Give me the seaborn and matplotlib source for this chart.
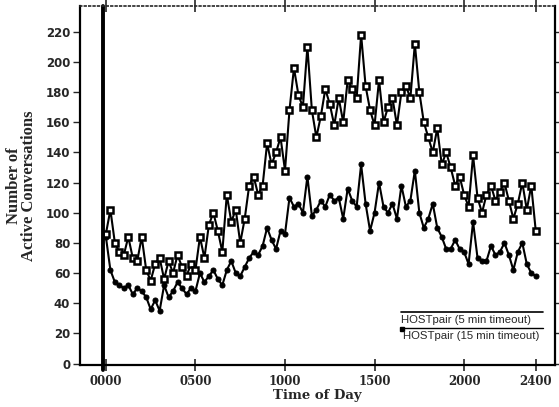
import numpy as np
import pandas as pd
import matplotlib
matplotlib.use("Agg")
import matplotlib.pyplot as plt
import seaborn as sns

# Time of day in hours (15-minute samples)
hours = np.arange(0, 24.01, 0.25)

# HOSTpair (15 min timeout) - upper series, square markers
conv_15min = [86, 102, 80, 74, 72, 84, 70, 68, 84, 62, 55, 66, 70, 56, 68, 60,
              72, 64, 58, 66, 62, 84, 70, 92, 100, 88, 74, 112, 94, 102, 80, 96,
              118, 124, 112, 118, 146, 132, 140, 150, 128, 168, 196, 178, 170, 210, 168, 150,
              164, 182, 172, 158, 176, 160, 188, 182, 176, 218, 184, 168, 158, 188, 160, 170,
              176, 158, 180, 184, 176, 212, 180, 160, 150, 140, 156, 132, 140, 130, 118, 124,
              112, 104, 138, 110, 100, 112, 118, 108, 114, 120, 108, 96, 106, 120, 102, 118, 88]

# HOSTpair (5 min timeout) - lower series, dot markers
conv_5min = [84, 62, 54, 52, 50, 52, 46, 50, 48, 44, 36, 42, 35, 52, 44, 48,
             54, 50, 46, 50, 48, 60, 54, 58, 62, 56, 52, 62, 68, 60, 58, 64,
             70, 74, 72, 78, 90, 82, 76, 88, 86, 110, 104, 106, 100, 124, 98, 102,
             108, 104, 112, 108, 110, 96, 116, 108, 104, 132, 106, 88, 100, 120, 104, 100,
             106, 96, 118, 104, 108, 128, 100, 90, 96, 106, 90, 84, 76, 76, 82, 76,
             74, 66, 94, 70, 68, 68, 78, 72, 74, 80, 72, 62, 74, 80, 66, 60, 58]

xtick_vals = [0, 5, 10, 15, 20, 24]
xtick_labels = ["0000", "0500", "1000", "1500", "2000", "2400"]
ytick_vals = list(range(0, 221, 20))
legend_labels = ["HOSTpair (5 min timeout)", "HOSTpair (15 min timeout)"]

sns.set_style("ticks")
fig = plt.figure(figsize=(5.59, 4.07), dpi=100)
ax = fig.add_axes([0.143, 0.103, 0.850, 0.882])

df = pd.DataFrame({"hour": hours, "c15": conv_15min, "c5": conv_5min})

sns.lineplot(data=df, x="hour", y="c5", ax=ax, color="black", linewidth=1.5,
             marker="o", markersize=3.6, markerfacecolor="black",
             markeredgecolor="black")
sns.lineplot(data=df, x="hour", y="c15", ax=ax, color="black", linewidth=1.5,
             marker="s", markersize=4.8, markerfacecolor="white",
             markeredgecolor="black", markeredgewidth=1.8)

# thick vertical line near midnight
ax.axvline(-0.17, color="black", linewidth=2.8, ymin=-0.015, ymax=1.0, clip_on=False)

ax.set_xlim(-1.45, 25.08)
ax.set_ylim(-1, 237)

ax.set_xticks(xtick_vals)
ax.set_xticklabels(xtick_labels, fontfamily="DejaVu Serif", fontweight="bold", fontsize=8.5)
ax.set_yticks(ytick_vals)
ax.set_yticklabels([str(v) for v in ytick_vals], fontfamily="DejaVu Sans",
                   fontweight="bold", fontsize=8.5)

ax.tick_params(axis="y", which="both", left=True, right=True, direction="out",
               length=5, width=1, pad=2)
ax.tick_params(axis="y", which="both", right=True, labelright=False)
ax.tick_params(axis="x", which="both", bottom=True, top=True, direction="inout",
               length=8, width=1.2, pad=3)

for side in ["left", "bottom", "right"]:
    ax.spines[side].set_linewidth(1.6)
    ax.spines[side].set_color("black")
ax.spines["top"].set_linewidth(1.2)
ax.spines["top"].set_linestyle(":")

ax.set_xlabel("Time of Day", fontfamily="DejaVu Serif", fontweight="bold",
              fontsize=9.5, labelpad=1)
ax.set_ylabel("Number of\nActive Conversations", fontfamily="Liberation Serif",
              fontweight="bold", fontsize=12, linespacing=0.95, labelpad=6)

# legend drawn as text with rule lines
ax.plot([0.675, 0.975], [0.147, 0.147], transform=ax.transAxes, color="black", lw=1.2)
ax.text(0.675, 0.125, legend_labels[0], transform=ax.transAxes, fontsize=8.2,
        fontfamily="Liberation Sans", va="center", ha="left")
ax.plot([0.675, 0.975], [0.102, 0.102], transform=ax.transAxes, color="black", lw=1.0)
ax.plot([0.677], [0.100], transform=ax.transAxes, color="black", marker="s", markersize=2.5)
ax.text(0.68, 0.082, legend_labels[1], transform=ax.transAxes, fontsize=8.2,
        fontfamily="Liberation Sans", va="center", ha="left")

fig.savefig("out.png", dpi=100)
